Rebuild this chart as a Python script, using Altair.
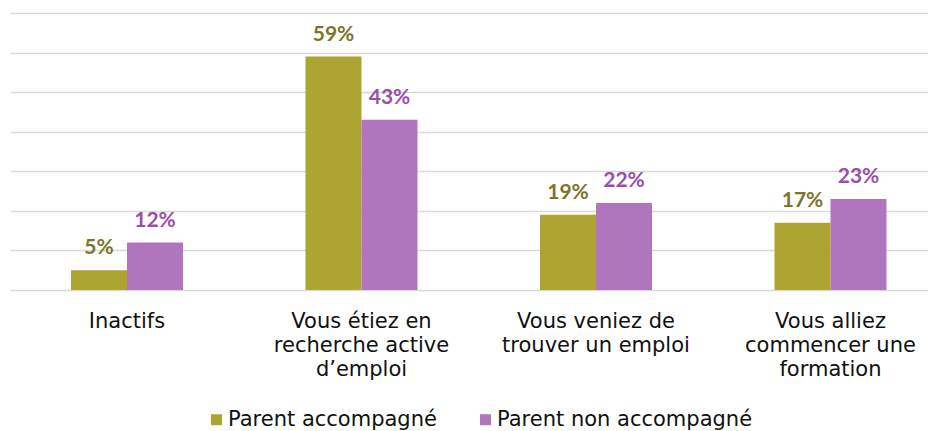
import altair as alt
import pandas as pd

categories = [
    "Inactifs",
    "Vous étiez en\nrecherche active\nd\u2019emploi",
    "Vous veniez de\ntrouver un emploi",
    "Vous alliez\ncommencer une\nformation",
]
series = ["Parent accompagné", "Parent non accompagné"]
accompagne = [5, 59, 19, 17]
non_accompagne = [12, 43, 22, 23]

rows = []
for c, a, n in zip(categories, accompagne, non_accompagne):
    rows.append({"cat": c, "serie": series[0], "val": a, "lab": f"{a}%"})
    rows.append({"cat": c, "serie": series[1], "val": n, "lab": f"{n}%"})
df = pd.DataFrame(rows)

bar_colors = ["#ADA432", "#B175BE"]
text_colors = ["#7B7527", "#9A4FA7"]

x = alt.X(
    "cat:N",
    sort=categories,
    title=None,
    scale=alt.Scale(paddingInner=0.5224, paddingOuter=0.2186, align=0.595),
    axis=alt.Axis(
        labelExpr="split(datum.label, '\\n')",
        labelAngle=0,
        labelFontSize=21,
        labelLineHeight=24,
        labelFont="DejaVu Sans",
        labelColor="#111111",
        labelPadding=20,
        labelBaseline="top",
        labelLimit=0,
        ticks=False,
        domain=False,
        grid=False,
    ),
)
y = alt.Y(
    "val:Q",
    title=None,
    scale=alt.Scale(domain=[0, 70], nice=False),
    axis=alt.Axis(
        values=[0, 10, 20, 30, 40, 50, 60, 70],
        labels=False,
        ticks=False,
        domain=False,
        grid=True,
        gridColor="#D9D9D9",
        gridWidth=1.5,
    ),
)

bars = alt.Chart(df).mark_bar().encode(
    x=x,
    xOffset=alt.XOffset("serie:N", sort=series),
    y=y,
    color=alt.Color(
        "serie:N",
        sort=series,
        scale=alt.Scale(domain=series, range=bar_colors),
        legend=alt.Legend(
            title=None,
            orient="none",
            legendX=196,
            legendY=396,
            direction="horizontal",
            symbolType="square",
            symbolSize=121,
            symbolStrokeWidth=0,
            labelFontSize=21,
            labelFont="DejaVu Sans",
            labelColor="#111111",
            labelOffset=1,
            labelLimit=0,
            columnPadding=38,
        ),
    ),
)

labels = alt.Chart(df).mark_text(
    baseline="alphabetic", dy=-16, fontSize=21, fontWeight="bold", font="Lato"
).encode(
    x=x,
    xOffset=alt.XOffset("serie:N", sort=series),
    y=y,
    text="lab:N",
    color=alt.Color("serie:N", sort=series,
                    scale=alt.Scale(domain=series, range=text_colors),
                    legend=None),
)

chart = (
    alt.layer(bars, labels)
    .resolve_scale(color="independent")
    .properties(width=918, height=277,
                padding={"left": 2, "top": 5, "right": 0, "bottom": 0})
    .configure_view(stroke=None)
)

chart.save("out.html", embed_options={"renderer": "svg", "actions": False})
